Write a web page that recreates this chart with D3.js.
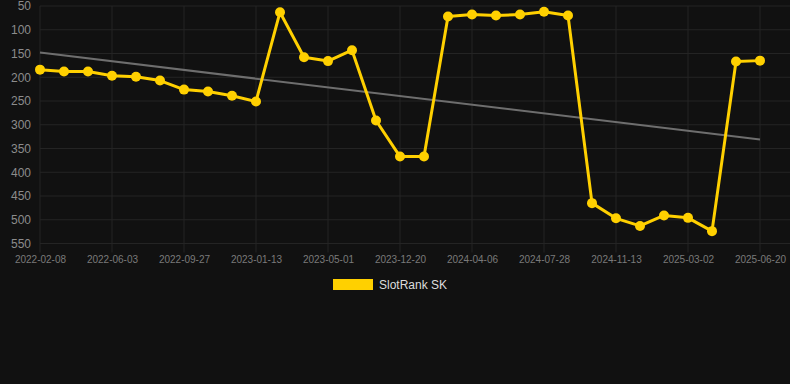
<!DOCTYPE html>
<html>
<head>
<meta charset="utf-8">
<script src="https://cdn.jsdelivr.net/npm/d3@7"></script>
<style>
  html, body { margin: 0; padding: 0; background: #111111; }
  svg { display: block; font-family: "Liberation Sans", Arial, sans-serif; }
</style>
</head>
<body>
<div id="chart"></div>
<script>
// data
const dates = [
  "2022-02-08", "2022-03-18", "2022-04-26", "2022-06-03", "2022-07-12", "2022-08-19",
  "2022-09-27", "2022-11-04", "2022-12-10", "2023-01-13", "2023-02-20", "2023-03-28",
  "2023-05-01", "2023-07-15", "2023-10-02", "2023-12-20", "2024-01-26", "2024-03-01",
  "2024-04-06", "2024-05-12", "2024-06-20", "2024-07-28", "2024-09-05", "2024-10-08",
  "2024-11-13", "2024-12-20", "2025-01-24", "2025-03-02", "2025-04-08", "2025-05-14",
  "2025-06-20"
];
const ranks = [
  184, 188, 188, 197, 199, 207, 226, 230, 239, 251, 63,
  158, 166, 143, 291, 367, 367, 72, 68, 70, 68, 62, 70,
  465, 497, 513, 491, 496, 524, 167, 165
];
const tickDates = dates.filter((d, i) => i % 3 === 0);
const yTicks = d3.range(50, 551, 50);
const trend = [148, 331]; // grey trend line, first and last point
const seriesName = "SlotRank SK";

const width = 790, height = 384;
const svg = d3.select("#chart").append("svg")
  .attr("width", width).attr("height", height);

svg.append("rect").attr("width", width).attr("height", height).attr("fill", "#111111");

const x = d3.scalePoint().domain(dates).range([40, 760]);
const y = d3.scaleLinear().domain([50, 550]).range([6, 243.5]);

// grid
const grid = svg.append("g").attr("class", "grid");
grid.selectAll(".hgrid").data(yTicks).enter().append("line")
  .attr("x1", 40).attr("x2", width)
  .attr("y1", d => y(d)).attr("y2", d => y(d))
  .attr("stroke", "#242424").attr("stroke-width", 1);
grid.selectAll(".vgrid").data(tickDates).enter().append("line")
  .attr("x1", d => x(d)).attr("x2", d => x(d))
  .attr("y1", y(50)).attr("y2", y(550) + 9)
  .attr("stroke", "#242424").attr("stroke-width", 1);

// y axis
const yAxis = svg.append("g")
  .attr("transform", "translate(31,0)")
  .call(d3.axisLeft(y).tickValues(yTicks).tickSize(0).tickPadding(0));
yAxis.select(".domain").remove();
yAxis.selectAll("text")
  .attr("fill", "#8c8c8c").style("font-size", "12px");

// x axis
const xAxis = svg.append("g")
  .attr("transform", `translate(0,${y(550)})`)
  .call(d3.axisBottom(x).tickValues(tickDates).tickSize(0).tickPadding(12));
xAxis.select(".domain").remove();
xAxis.selectAll("text")
  .attr("fill", "#7a7a7a").style("font-size", "10px");

// trend line
svg.append("line")
  .attr("x1", x(dates[0])).attr("y1", y(trend[0]))
  .attr("x2", x(dates[dates.length - 1])).attr("y2", y(trend[1]))
  .attr("stroke", "#6e6e6e").attr("stroke-width", 2);

// series
const line = d3.line().x((d, i) => x(dates[i])).y(d => y(d));
svg.append("path")
  .attr("d", line(ranks))
  .attr("fill", "none")
  .attr("stroke", "#FFD000")
  .attr("stroke-width", 3)
  .attr("stroke-linejoin", "round");

svg.append("g").selectAll("circle").data(ranks).enter().append("circle")
  .attr("cx", (d, i) => x(dates[i]))
  .attr("cy", d => y(d))
  .attr("r", 5)
  .attr("fill", "#FFD000");

// legend
const legend = svg.append("g").attr("transform", "translate(333,279)");
legend.append("rect").attr("width", 40).attr("height", 11).attr("fill", "#FFD000");
legend.append("text").attr("x", 46).attr("y", 10)
  .attr("fill", "#dddddd").style("font-size", "12px")
  .text(seriesName);
</script>
</body>
</html>
